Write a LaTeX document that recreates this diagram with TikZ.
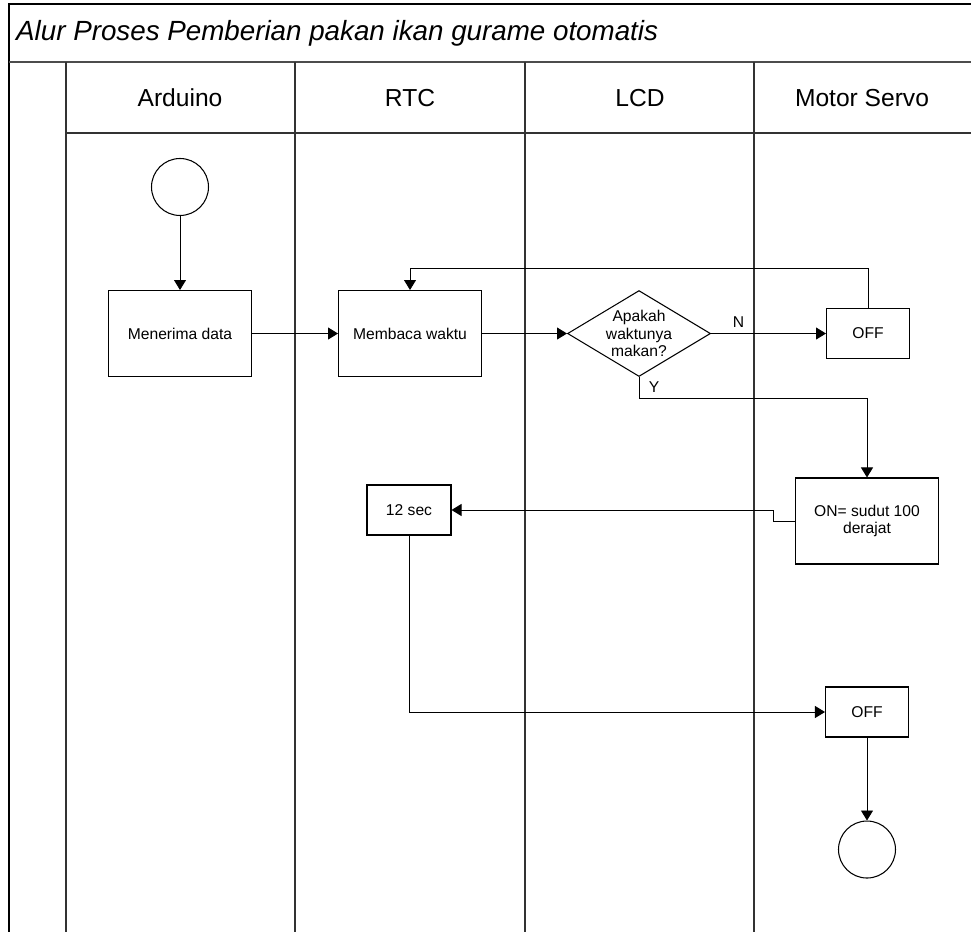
\documentclass[tikz,border=0pt]{standalone}
\usepackage{fontspec}
\setmainfont{Liberation Sans}
\usetikzlibrary{positioning,arrows.meta,shapes.geometric}

\begin{document}
\begin{tikzpicture}[
      x=0.02cm,y=-0.02cm,
      font=\fontsize{8.9}{10}\selectfont,
      lane/.style={draw=black!80,line width=0.9pt},
      proc/.style={draw,line width=0.6pt,minimum width=2.86cm,minimum height=1.72cm,align=center,inner sep=2pt},
      small/.style={draw,line width=0.6pt,minimum width=1.66cm,minimum height=1cm,inner sep=2pt},
      term/.style={draw,circle,line width=0.6pt,minimum size=1.14cm,inner sep=0pt},
      decision/.style={draw,diamond,line width=0.6pt,minimum width=2.86cm,minimum height=1.72cm,inner sep=0pt},
      head/.style={font=\fontsize{14}{16}\selectfont},
      arr/.style={-{Triangle[length=2mm,width=2.4mm]},line width=0.5pt}
    ]
      \useasboundingbox (0,0) rectangle (971,932);

      % frame and lanes
      \draw[line width=0.7pt] (971,4) -- (9,4) -- (9,932);
      \draw[lane,line width=1.2pt,draw=black!70] (9,62) -- (971,62);
      \draw[lane] (66,133) -- (971,133);
      \foreach \lx in {66,295,525,754}
        \draw[lane] (\lx,62) -- (\lx,932);

      \node[anchor=west,font=\fontsize{15.8}{18}\selectfont\itshape] (title) at (10,33) {Alur Proses Pemberian pakan ikan gurame otomatis};
      \node[head] (hArduino) at (180,98) {Arduino};
      \node[head] (hRTC) at (410,98) {RTC};
      \node[head] (hLCD) at (640,98) {LCD};
      \node[head] (hServo) at (862,98) {Motor Servo};

      % flow
      \node[term] (start) at (180,187) {};
      \node[proc,below=1.48cm of start] (recv) {Menerima data};
      \node[proc,right=1.72cm of recv] (read) {Membaca waktu};
      \node[decision,right=1.70cm of read] (ask) {};
      \node[align=center] (askText) at (ask) {Apakah\\waktunya\\makan?};
      \node[small,right=2.30cm of ask] (offA) {OFF};
      \node[proc] (on) at (867,521) {ON= sudut 100\\derajat};
      \node[small,minimum width=1.68cm] (sec) at (409,510) {12 sec};
      \node[small] (offB) at (867,712) {OFF};
      \node[term,below=1.66cm of offB] (stop) {};

      \draw[arr] (start) -- (recv);
      \draw[arr] (recv) -- (read);
      \draw[arr] (read) -- (ask);
      \draw[arr] (ask) -- node[pos=0.24,above]{N} (offA);
      \draw[arr] (offA.north) -- ++(0,-40) -| (read.north);
      \draw[arr] (ask.south) -- node[pos=0.5,right,xshift=2pt]{Y} ++(0,21) -| (on.north);
      \draw[arr] (on.west) -- ++(-22,0) |- (sec.east);
      \draw[arr] (sec.south) |- (offB.west);
      \draw[arr] (offB) -- (stop);
    \end{tikzpicture}
\end{document}
